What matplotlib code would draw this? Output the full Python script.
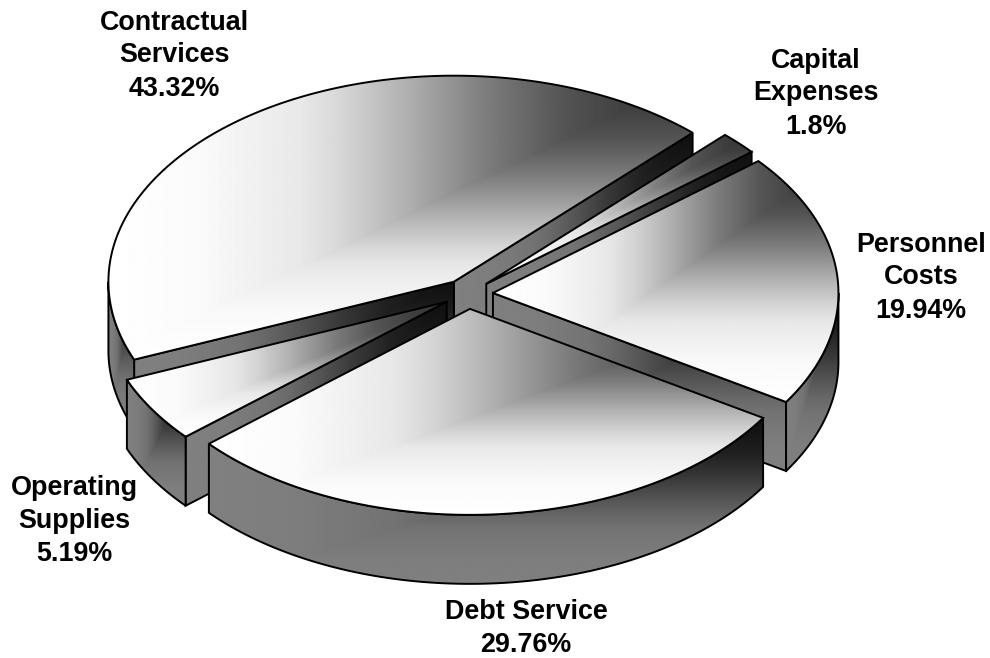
import numpy as np
import matplotlib
matplotlib.use("Agg")
import matplotlib.pyplot as plt
from matplotlib.patches import Polygon

# Budget shares, listed counter-clockwise from the first slice
categories = ["Contractual\nServices", "Operating\nSupplies", "Debt Service",
              "Personnel\nCosts", "Capital\nExpenses"]
shares = [43.32, 5.19, 29.76, 19.94, 1.8]
label_xy = [(174, 55.5), (74, 521), (526, 628.5), (921, 277.5), (816, 93.5)]
paint_order = [0, 4, 3, 1, 2]

CX, CY = 468.0, 294.0
RX, RY = 345.5, 206.0
DEPTH = 69.0
EXPLODE = 25.0
START_ANGLE = 46.3

# Grey level along the corner gradient; the wall range follows the same ramp
RAMP_POS = [0.0, 0.16, 0.33, 0.40, 0.50, 0.65, 0.78, 0.90, 1.0]
RAMP_TOP = [255, 250, 232, 214, 180, 124, 84, 62, 52]
TOP_SHADE = (255, 50)
SIDE_SHADE = (128, 15)
EDGE_WIDTH = 1.4

plt.rcParams["font.family"] = ["Liberation Sans", "DejaVu Sans"]
fig = plt.figure(figsize=(9.9, 6.58), dpi=100)
ax = fig.add_axes([0, 0, 1, 1])
ax.set_xlim(0, 990)
ax.set_ylim(658, 0)
ax.axis("off")


def rim(apex, angles):
    """Points on a slice's elliptical rim for angles in degrees."""
    t = np.radians(angles)
    return np.column_stack((apex[0] + RX * np.cos(t), apex[1] - RY * np.sin(t)))


def shaded_face(points, shade, z):
    """Polygon filled with a corner gradient: darkest at its upper right."""
    x0, y0 = points.min(axis=0)
    x1, y1 = points.max(axis=0)
    u, v = np.meshgrid(np.linspace(0, 1, 600), np.linspace(1, 0, 600))
    level = np.interp(np.minimum(u, v), RAMP_POS, RAMP_TOP)
    amount = (255 - level) / (255 - 50)
    grey = shade[0] + (shade[1] - shade[0]) * amount
    outline = Polygon(points, closed=True, facecolor="none", edgecolor="black",
                      linewidth=EDGE_WIDTH, joinstyle="miter", zorder=z + 0.5)
    ax.add_patch(outline)
    im = ax.imshow(grey, cmap="gray", vmin=0, vmax=255, aspect="auto",
                   extent=(x0, x1, y1, y0), interpolation="bilinear", zorder=z)
    clip = Polygon(points, closed=True, transform=ax.transData)
    im.set_clip_path(clip)


def draw_slice(a0, a1, z):
    mid = np.radians((a0 + a1) / 2)
    apex = np.array((CX + EXPLODE * np.cos(mid),
                     CY - EXPLODE * RY / RX * np.sin(mid)))
    drop = np.array((0, DEPTH))

    # Cut faces that turn towards the viewer
    for angle, outward in ((a0, -1), (a1, 1)):
        t = np.radians(angle)
        normal_y = outward * np.cos(t)
        if normal_y < 0:
            tip = rim(apex, [angle])[0]
            face = np.array((apex, tip, tip + drop, apex + drop))
            shaded_face(face, SIDE_SHADE, z)

    # Outer wall along the front half of the ellipse
    spans = [(max(a0, 180), min(a1, 360)), (max(a0, 540), min(a1, 720))]
    for lo, hi in spans:
        if hi > lo:
            top = rim(apex, np.linspace(lo, hi, 120))
            wall = np.vstack((top, (top + drop)[::-1]))
            shaded_face(wall, SIDE_SHADE, z + 1)

    # Top face
    arc = rim(apex, np.linspace(a0, a1, 240))
    shaded_face(np.vstack((apex, arc)), TOP_SHADE, z + 2)


edges = START_ANGLE + np.concatenate(([0], np.cumsum(shares))) * 360 / sum(shares)
for rank, i in enumerate(paint_order):
    draw_slice(edges[i], edges[i + 1], 2 + rank * 4)

ax.set_xlim(0, 990)
ax.set_ylim(658, 0)

for name, share, (x, y) in zip(categories, shares, label_xy):
    ax.text(x, y, f"{name}\n{share}%", ha="center", va="center", ma="center",
            fontsize=19.4, fontweight="bold", color="black", linespacing=1.35,
            zorder=100)

fig.savefig("out.png", dpi=100, facecolor="white")
